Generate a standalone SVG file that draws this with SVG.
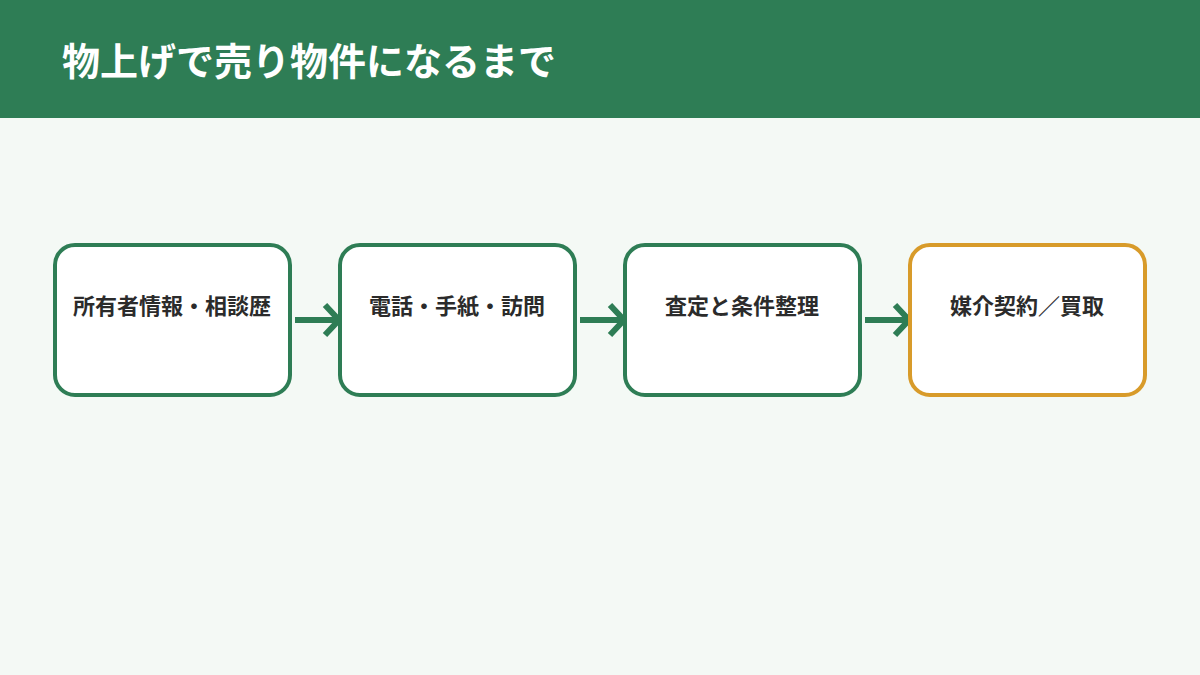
<svg xmlns="http://www.w3.org/2000/svg" width="1200" height="675" viewBox="0 0 1200 675">
<style>
.box{fill:#fff;stroke:#2e7d55;stroke-width:4}
.hl{stroke:#d89b2a}
.t{font-family:"Noto Sans CJK JP","Noto Sans",sans-serif;font-weight:bold;font-size:22px;fill:#2b2b2b;text-anchor:middle}
.c{stroke:#2e7d55;stroke-width:6;fill:none}
</style>
<rect width="1200" height="675" fill="#f4f9f5"/>
<rect width="1200" height="118" fill="#2e7d55"/>
<text x="62" y="75" font-family="Noto Sans CJK JP,sans-serif" font-weight="bold" font-size="38" fill="#fff">物上げで売り物件になるまで</text>
<g id="connectors">
<path class="c" d="M295 320H335M325 305L339 320L325 335"/>
<path class="c" d="M580 320H620M610 305L624 320L610 335"/>
<path class="c" d="M865 320H905M895 305L909 320L895 335"/>
</g>
<g id="n1"><rect class="box" x="55" y="245" width="235" height="150" rx="20"/><text class="t" x="172" y="314">所有者情報・相談歴</text></g>
<g id="n2"><rect class="box" x="340" y="245" width="235" height="150" rx="20"/><text class="t" x="457" y="314">電話・手紙・訪問</text></g>
<g id="n3"><rect class="box" x="625" y="245" width="235" height="150" rx="20"/><text class="t" x="742" y="314">査定と条件整理</text></g>
<g id="n4"><rect class="box hl" x="910" y="245" width="235" height="150" rx="20"/><text class="t" x="1027" y="314">媒介契約／買取</text></g>
</svg>
